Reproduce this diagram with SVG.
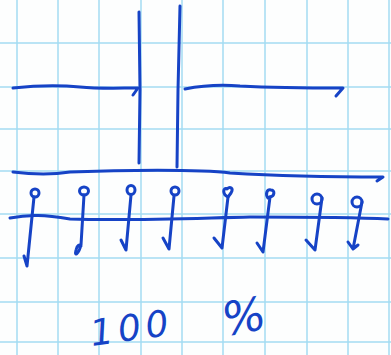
<svg xmlns="http://www.w3.org/2000/svg" width="391" height="355" viewBox="0 0 391 355">
<style>
.grid{stroke:#a4dcf2;stroke-width:1.5;fill:none}
.ink{stroke:#1643c6;stroke-width:3;fill:none;stroke-linecap:round;stroke-linejoin:round}
.hand{fill:#1643c6;font-family:"DejaVu Sans",sans-serif;font-style:italic}
</style>
<rect width="391" height="355" fill="#fdfefe"/>
<g id="grid" class="grid">
<path d="M17 0V355M58 0V355M99 0V355M141 0V355M182 0V355M223 0V355M265 0V355M307 0V355M348 0V355M389 0V355"/>
<path d="M0 43H391M0 87H391M0 129H391M0 171H391M0 214H391M0 258H391M0 302H391M0 342H391"/>
</g>
<g id="connectors" class="ink">
<path d="M139 12 L140 90 L139 163"/>
<path d="M180 6 L178 90 L177 167"/>
<path d="M13 88 C40 85 60 85 80 87 C100 89 120 88 138 88 L133 95"/>
<path d="M185 89 C200 86 215 84 240 86 C280 88 320 88 343 88 L336 96"/>
<path d="M13 172 C30 174 50 175 70 172 C120 170 200 169 230 173 C280 176 340 177 383 177 L377 181"/>
<path d="M10 218 C30 214 45 215 70 219 C130 221 200 218 250 217 C300 217 350 217 388 219"/>
</g>
<g id="figures" class="ink" stroke-width="2.5">
<g id="f1"><ellipse cx="35" cy="193" rx="4" ry="4"/><path d="M34 197 L27 266 L24 256"/></g>
<g id="f2"><ellipse cx="84" cy="191" rx="4.5" ry="4"/><path d="M84 195 L81 245 C79 253 74 258 76 250 C77 245 80 244 81 246"/></g>
<g id="f3"><ellipse cx="131" cy="190" rx="4" ry="4.5"/><path d="M131 195 L126 250 L121 240"/></g>
<g id="f4"><ellipse cx="175" cy="191" rx="4" ry="4"/><path d="M174 196 L169 249 L163 238"/></g>
<g id="f5"><path d="M228 197 C222 194 223 187 227 189 C230 186 234 188 231 193 Z"/><path d="M228 197 L222 248 L214 238"/></g>
<g id="f6"><path d="M268 198 C265 194 267 189 271 190 C275 190 275 196 270 197"/><path d="M270 197 L263 252 L257 243"/></g>
<g id="f7"><ellipse cx="317" cy="199" rx="5" ry="5"/><path d="M322 198 L315 250 L306 240"/></g>
<g id="f8"><ellipse cx="357" cy="202" rx="5" ry="5"/><path d="M362 202 L353 249 L348 242 M353 249 L358 245"/></g>
</g>
<g id="label">
<text class="hand" x="92" y="346" font-size="36" letter-spacing="5" transform="rotate(-8 92 346)">100</text>
<text class="hand" x="225" y="336" font-size="46" transform="rotate(-10 225 336)">%</text>
</g>
</svg>
